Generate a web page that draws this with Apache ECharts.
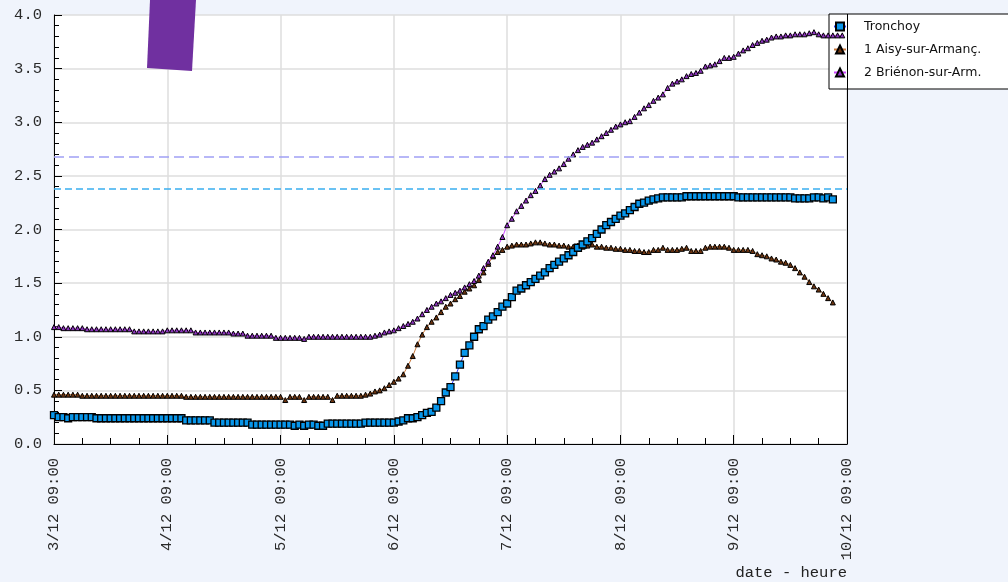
<!DOCTYPE html>
<html><head><meta charset="utf-8">
<script src="https://cdn.jsdelivr.net/npm/echarts@6/dist/echarts.min.js"></script>
<style>html,body{margin:0;padding:0;background:#f0f4fc}#c{width:1008px;height:582px}</style>
</head><body><div id="c"></div>
<script>
// ---- data (hourly readings from 3/12 09:00) ----
const seriesNames = ['Tronchoy', '1 Aisy-sur-Armanç.', '2 Briénon-sur-Arm.'];
const xTickLabels = ['3/12 09:00','4/12 09:00','5/12 09:00','6/12 09:00','7/12 09:00','8/12 09:00','9/12 09:00','10/12 09:00'];
const yTickLabels = ['0.0','0.5','1.0','1.5','2.0','2.5','3.0','3.5','4.0'];
const xAxisTitle = 'date - heure';
const thresholds = [2.68, 2.38];

const tronchoy = [
 0.27,0.25,0.25,0.24,0.25,0.25,0.25,0.25,0.25,0.24,
 0.24,0.24,0.24,0.24,0.24,0.24,0.24,0.24,0.24,0.24,
 0.24,0.24,0.24,0.24,0.24,0.24,0.24,0.24,
 0.22,0.22,0.22,0.22,0.22,0.22,
 0.20,0.20,0.20,0.20,0.20,0.20,0.20,0.20,
 0.18,0.18,0.18,0.18,0.18,0.18,0.18,0.18,0.18,
 0.17,0.18,0.17,0.18,0.18,0.17,0.17,
 0.19,0.19,0.19,0.19,0.19,0.19,0.19,0.19,
 0.20,0.20,0.20,0.20,0.20,0.20,0.20,
 0.21,0.22,0.24,0.24,0.25,0.27,0.29,
 0.30,0.34,0.40,0.48,0.53,0.63,0.74,0.85,0.92,1.00,
 1.07,1.10,1.16,1.19,1.23,1.28,1.31,1.37,1.43,1.45,
 1.48,1.51,1.54,1.57,1.60,1.64,1.67,1.70,1.73,1.76,
 1.79,1.83,1.86,1.89,1.92,1.96,2.00,2.04,2.07,2.10,
 2.13,2.15,2.18,2.21,2.24,2.25,2.27,2.28,2.29,2.30,
 2.30,2.30,2.30,2.30,
 2.31,2.31,2.31,2.31,2.31,2.31,2.31,2.31,2.31,2.31,2.31,
 2.30,2.30,2.30,2.30,2.30,2.30,2.30,2.30,2.30,2.30,2.30,2.30,
 2.29,2.29,2.29,2.29,
 2.30,2.30,2.29,2.30,2.28
];

const aisy = [
 0.46,0.46,0.46,0.46,0.46,0.46,
 0.45,0.45,0.45,0.45,0.45,0.45,0.45,0.45,0.45,0.45,0.45,0.45,0.45,0.45,0.45,0.45,0.45,0.45,0.45,0.45,0.45,0.45,
 0.44,0.44,0.44,0.44,0.44,0.44,0.44,0.44,0.44,0.44,0.44,0.44,0.44,0.44,0.44,0.44,0.44,0.44,0.44,0.44,0.44,
 0.41,
 0.44,0.44,0.44,
 0.41,
 0.44,0.44,0.44,0.44,0.44,
 0.41,
 0.45,0.45,0.45,0.45,0.45,0.45,
 0.46,0.47,0.49,0.50,0.52,0.55,0.58,0.61,0.65,0.73,
 0.82,0.93,1.02,1.09,1.14,1.18,1.23,1.28,1.31,1.35,
 1.38,1.42,1.45,1.48,1.53,1.60,1.68,1.75,1.79,1.81,
 1.84,1.85,1.86,1.86,1.86,1.87,1.88,1.88,1.87,1.86,
 1.86,1.85,1.85,1.84,1.84,1.85,1.84,1.85,1.86,1.84,
 1.84,1.83,1.83,1.82,1.82,1.81,1.81,1.80,1.80,1.79,
 1.79,1.81,1.81,1.83,1.81,1.81,1.81,1.82,1.83,1.80,
 1.80,1.80,1.83,1.84,1.84,1.84,1.84,1.83,1.81,1.81,
 1.81,1.81,1.80,1.77,1.76,1.75,1.73,1.72,1.70,1.69,
 1.67,1.64,1.60,1.56,1.51,1.47,1.44,1.40,1.36,1.32
];

const brienon = [
 1.09,1.09,
 1.08,1.08,1.08,1.08,1.08,
 1.07,1.07,1.07,1.07,1.07,1.07,1.07,1.07,1.07,1.07,
 1.05,1.05,1.05,1.05,1.05,1.05,1.05,
 1.06,1.06,1.06,1.06,1.06,1.06,
 1.04,1.04,1.04,1.04,1.04,1.04,1.04,1.04,
 1.03,1.03,1.03,
 1.01,1.01,1.01,1.01,1.01,1.01,
 0.99,0.99,0.99,0.99,0.99,0.99,
 0.98,
 1.00,1.00,1.00,1.00,1.00,1.00,1.00,1.00,1.00,1.00,1.00,1.00,1.00,1.00,
 1.01,1.02,1.04,1.05,1.06,1.08,1.10,1.12,1.14,1.17,
 1.21,1.25,1.28,1.31,1.33,1.36,1.39,1.41,1.43,1.46,
 1.49,1.52,1.57,1.64,1.70,1.76,1.84,1.93,2.04,2.10,
 2.17,2.22,2.27,2.32,2.36,2.41,2.47,2.51,2.54,2.57,
 2.61,2.66,2.70,2.74,2.77,2.79,2.81,2.84,2.87,2.90,
 2.93,2.96,2.98,3.00,3.01,3.05,3.09,3.13,3.16,3.20,
 3.23,3.26,3.32,3.36,3.38,3.40,3.43,3.45,3.46,3.48,
 3.52,3.53,3.54,3.57,3.60,3.60,3.61,3.64,3.67,3.69,
 3.72,3.74,3.76,3.77,3.79,3.80,3.80,3.81,3.81,3.82,
 3.82,3.82,3.83,3.84,3.82,3.81,3.81,3.81,3.81,3.81
];

const toXY = arr => arr.map((v, i) => [i, v]);
const monoFont = 'Liberation Mono';

const chart = echarts.init(document.getElementById('c'), null, {renderer: 'canvas'});
chart.setOption({
  animation: false,
  backgroundColor: '#f0f4fc',
  grid: {left: 54, right: 161, top: 15, bottom: 138, show: true, backgroundColor: '#ffffff', borderWidth: 0},
  xAxis: {
    type: 'value', min: 0, max: 168, interval: 24,
    axisLine: {show: true, lineStyle: {color: '#000', width: 1}},
    axisTick: {show: true, inside: true, length: 9, lineStyle: {color: '#000'}},
    minorTick: {show: true, splitNumber: 4, length: 6, lineStyle: {color: '#000'}},
    splitLine: {show: true, lineStyle: {color: '#dedede', width: 1.5}},
    axisLabel: {rotate: 90, margin: 14, fontFamily: monoFont, fontSize: 15.5, color: '#2a2a2a',
      formatter: v => xTickLabels[Math.round(v / 24)] || ''},
    name: xAxisTitle, nameLocation: 'end', nameGap: 0,
    nameTextStyle: {fontFamily: monoFont, fontSize: 15.5, color: '#222', align: 'right', verticalAlign: 'top', padding: [121, 0, 0, 0]}
  },
  yAxis: [{
    type: 'value', min: 0, max: 4, interval: 0.5,
    axisLine: {show: true, lineStyle: {color: '#000', width: 1}},
    axisTick: {show: true, inside: true, length: 8, lineStyle: {color: '#000'}},
    minorTick: {show: true, splitNumber: 5, length: 5, lineStyle: {color: '#000'}},
    splitLine: {show: true, lineStyle: {color: '#dedede', width: 1.5}},
    axisLabel: {margin: 12, fontFamily: monoFont, fontSize: 15.5, color: '#2a2a2a',
      formatter: v => yTickLabels[Math.round(v / 0.5)] || ''}
  }, {
    type: 'value', min: 0, max: 4, interval: 0.5, position: 'right',
    axisLine: {show: true, lineStyle: {color: '#000', width: 1}},
    axisTick: {show: false}, axisLabel: {show: false}, splitLine: {show: false}
  }],
  legend: {
    orient: 'vertical', left: 829, top: 14,
    backgroundColor: '#ffffff', borderColor: '#000', borderWidth: 1,
    padding: [6, 32, 10, 4], itemWidth: 12, itemHeight: 10, itemGap: 10,
    textStyle: {fontFamily: 'DejaVu Sans', fontSize: 12.5, color: '#111', padding: [0, 0, 0, 13]},
    data: seriesNames
  },
  series: [{
    name: seriesNames[0], type: 'line', data: toXY(tronchoy), z: 5,
    symbol: 'rect', symbolSize: 7,
    lineStyle: {color: '#2a3cff', width: 1},
    itemStyle: {color: '#0896ea', borderColor: '#000', borderWidth: 1.3},
    markLine: {
      silent: true, symbol: ['none', 'none'], label: {show: false},
      data: [
        {yAxis: thresholds[0], lineStyle: {color: '#a0a0f5', type: [10, 5], width: 1.5}},
        {yAxis: thresholds[1], lineStyle: {color: '#3aaef0', type: [7, 4], width: 1.5}}
      ]
    }
  }, {
    name: seriesNames[1], type: 'line', data: toXY(aisy), z: 3,
    symbol: 'triangle', symbolSize: 5,
    lineStyle: {color: '#c8773a', width: 1},
    itemStyle: {color: '#6e3510', borderColor: '#000', borderWidth: 1}
  }, {
    name: seriesNames[2], type: 'line', data: toXY(brienon), z: 4,
    symbol: 'triangle', symbolSize: 5,
    lineStyle: {color: '#cc44ff', width: 1},
    itemStyle: {color: '#8e34c0', borderColor: '#000', borderWidth: 1}
  }],
  graphic: [{
    type: 'polygon', z: 100,
    shape: {points: [[150, 0], [196, 0], [192, 71], [147, 68]]},
    style: {fill: '#7030a0'}
  }, {
    type: 'line', z: 100,
    shape: {x1: 847.5, y1: 14, x2: 847.5, y2: 89},
    style: {stroke: '#000', lineWidth: 1}
  }]
});
</script></body></html>
